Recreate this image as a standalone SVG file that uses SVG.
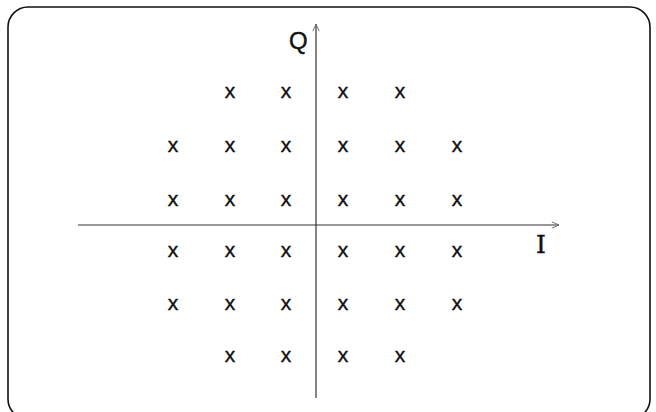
<svg xmlns="http://www.w3.org/2000/svg" width="656" height="412" viewBox="0 0 656 412">
  <defs>
    <marker id="arr" viewBox="0 0 10 10" refX="9" refY="5" markerWidth="9" markerHeight="9" markerUnits="userSpaceOnUse" orient="auto">
      <path d="M1,1.5 L9,5 L1,8.5" fill="none" stroke="#666" stroke-width="1"/>
    </marker>
    <style>
      .pt { font-family: "Liberation Sans", Arial, sans-serif; font-size: 21px; fill: #111; stroke: #111; stroke-width: 0.4; text-anchor: middle; }
      .ax { stroke: #333; stroke-width: 1.2; fill: none; marker-end: url(#arr); }
      .lb { fill: #111; stroke: #111; stroke-width: 0.4; }
    </style>
  </defs>
  <rect width="656" height="412" fill="#fff"/>
  <rect id="frame" x="8" y="7" width="642" height="412" rx="20" ry="20" fill="none" stroke="#111" stroke-width="1.6"/>
  <g id="connectors">
    <line class="ax" x1="78" y1="225" x2="559" y2="225"/>
    <line class="ax" x1="316" y1="398" x2="316" y2="24"/>
  </g>
  <g id="labels">
    <text id="Q" class="lb" x="289" y="49" font-family="Liberation Sans, Arial, sans-serif" font-size="24">Q</text>
    <text id="I" class="lb" x="536" y="253" font-family="DejaVu Serif, serif" font-size="25">I</text>
  </g>
  <g id="points">
    <text class="pt" x="230" y="98">x</text><text class="pt" x="286" y="98">x</text><text class="pt" x="343" y="98">x</text><text class="pt" x="400" y="98">x</text>
    <text class="pt" x="173" y="152">x</text><text class="pt" x="230" y="152">x</text><text class="pt" x="286" y="152">x</text><text class="pt" x="343" y="152">x</text><text class="pt" x="400" y="152">x</text><text class="pt" x="457" y="152">x</text>
    <text class="pt" x="173" y="206">x</text><text class="pt" x="230" y="206">x</text><text class="pt" x="286" y="206">x</text><text class="pt" x="343" y="206">x</text><text class="pt" x="400" y="206">x</text><text class="pt" x="457" y="206">x</text>
    <text class="pt" x="173" y="257">x</text><text class="pt" x="230" y="257">x</text><text class="pt" x="286" y="257">x</text><text class="pt" x="343" y="257">x</text><text class="pt" x="400" y="257">x</text><text class="pt" x="457" y="257">x</text>
    <text class="pt" x="173" y="310">x</text><text class="pt" x="230" y="310">x</text><text class="pt" x="286" y="310">x</text><text class="pt" x="343" y="310">x</text><text class="pt" x="400" y="310">x</text><text class="pt" x="457" y="310">x</text>
    <text class="pt" x="230" y="362">x</text><text class="pt" x="286" y="362">x</text><text class="pt" x="343" y="362">x</text><text class="pt" x="400" y="362">x</text>
  </g>
</svg>
